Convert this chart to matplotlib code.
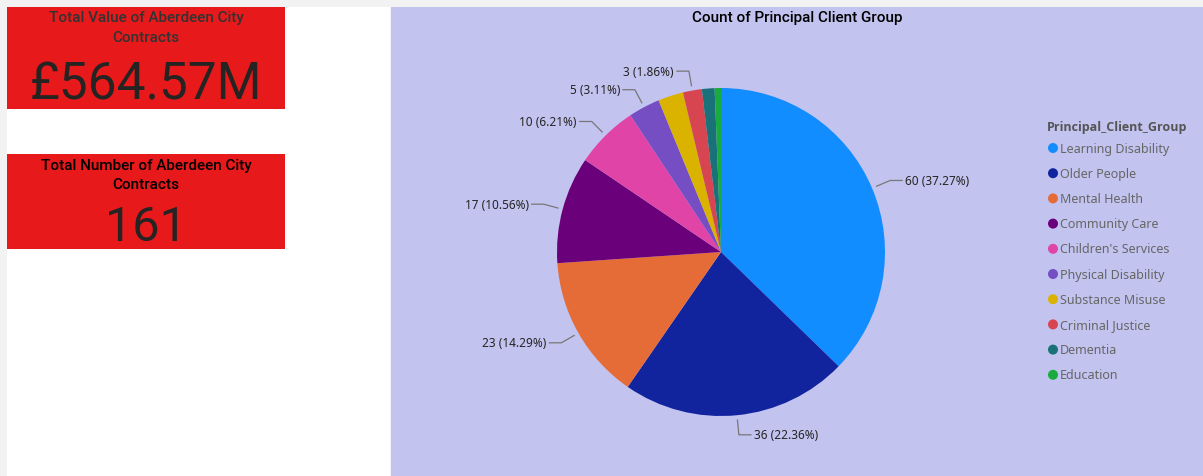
import numpy as np
import matplotlib
matplotlib.use("Agg")
import matplotlib.pyplot as plt
from matplotlib.patches import Rectangle, Circle

# dati
gruppi = ["Learning Disability", "Older People", "Mental Health", "Community Care",
          "Children's Services", "Physical Disability", "Substance Misuse",
          "Criminal Justice", "Dementia", "Education"]
conteggi = [60, 36, 23, 17, 10, 5, 4, 3, 2, 1]
colori = ["#118DFF", "#12239E", "#E66C37", "#6B007B", "#E044A7",
          "#744EC2", "#D9B300", "#D64550", "#197278", "#1AAB40"]
etichettati = ["Learning Disability", "Older People", "Mental Health", "Community Care",
               "Children's Services", "Physical Disability", "Criminal Justice"]
valore_totale = "£564.57M"
numero_totale = "161"

W, H = 1203, 477
fig = plt.figure(figsize=(W / 100, H / 100), dpi=100)
fig.patch.set_facecolor("#f2f2f2")


def rett(x0, y0, x1, y1, colore):
    # coordinate in pixel dall'alto
    fig.patches.append(Rectangle((x0 / W, 1 - y1 / H), (x1 - x0) / W, (y1 - y0) / H,
                                 transform=fig.transFigure, facecolor=colore,
                                 edgecolor="none", zorder=-5))


def testo(x, y, s, **kw):
    fig.text(x / W, 1 - y / H, s, **kw)


rett(7, 8, 390, 477, "white")
rett(391, 8, 1203, 477, "#c2c3ef")
rett(7, 8, 285, 110, "#e8191a")
rett(7, 155, 285, 250, "#e8191a")

testo(146, 18, "Total Value of Aberdeen City", ha="center", va="center",
      fontsize=11, color="#333333", family="Roboto", weight="medium")
testo(146, 38, "Contracts", ha="center", va="center", fontsize=11,
      color="#333333", family="Roboto", weight="medium")
testo(146, 86, valore_totale, ha="center", va="center", fontsize=37,
      color="#252423", family="Roboto")
testo(146, 166, "Total Number of Aberdeen City", ha="center", va="center",
      fontsize=11, color="black", family="Roboto", weight="medium")
testo(146, 185, "Contracts", ha="center", va="center", fontsize=11,
      color="black", family="Roboto", weight="medium")
testo(146, 228, numero_totale, ha="center", va="center", fontsize=35,
      color="#252423", family="Roboto")

testo(797, 18, "Count of Principal Client Group", ha="center", va="center",
      fontsize=11, color="black", family="Roboto", weight="medium")

# torta in coordinate pixel
ax = fig.add_axes([391 / W, 0, (W - 391) / W, (H - 8) / H])
ax.patch.set_alpha(0)
cx, cy, r = 721, H - 253, 164
ax.pie(conteggi, colors=colori, startangle=90, counterclock=False,
       center=(cx, cy), radius=r, wedgeprops=dict(linewidth=0))
ax.set_xlim(391, W)
ax.set_ylim(0, H - 8)
ax.set_aspect("equal")
ax.axis("off")

totale = sum(conteggi)
cum = 0
for g, v in zip(gruppi, conteggi):
    mid = 90 - (cum + v / 2) / totale * 360
    cum += v
    if g not in etichettati:
        continue
    a = np.radians(mid)
    ca, sa = np.cos(a), np.sin(a)
    p0 = (cx + 1.03 * r * ca, cy + 1.03 * r * sa)
    p1 = (cx + 1.12 * r * ca, cy + 1.12 * r * sa)
    lato = 1 if ca >= 0 else -1
    p2 = (p1[0] + lato * 12, p1[1])
    ax.plot([p0[0], p1[0], p2[0]], [p0[1], p1[1], p2[1]], color="#777777", lw=0.9)
    ax.text(p2[0] + lato * 3, p2[1], f"{v} ({v / totale * 100:.2f}%)",
            ha="left" if lato > 0 else "right", va="center", fontsize=8.5,
            color="#252423", family="Noto Sans")

# legenda (nelle coordinate pixel dell'asse)
ax.text(1047, H - 128, "Principal_Client_Group", ha="left", va="center",
        fontsize=9, color="#555555", weight="bold", family="Open Sans")
for i, (g, c) in enumerate(zip(gruppi, colori)):
    y = H - (149 + i * 25.2)
    ax.add_patch(Circle((1053, y), 5, facecolor=c, edgecolor="none", clip_on=False))
    ax.text(1060, y, g, ha="left", va="center", fontsize=9, color="#666666",
            family="Noto Sans")

fig.savefig("out.png", dpi=100, facecolor=fig.get_facecolor())
